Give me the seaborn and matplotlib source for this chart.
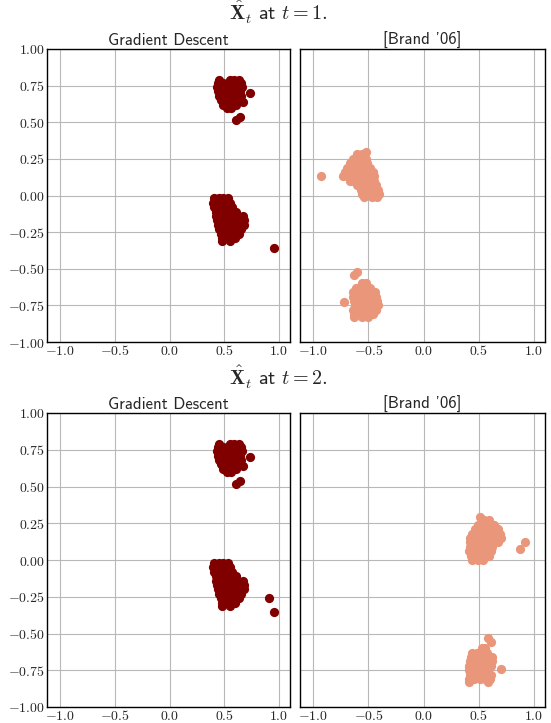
import numpy as np
import pandas as pd
import matplotlib.pyplot as plt
from matplotlib.ticker import FixedLocator, FuncFormatter
import seaborn as sns

# ---- data ---------------------------------------------------------------
# Gradient Descent, t = 1 (upper cluster + lower cluster)
gd_x_t1 = [0.45, 0.55, 0.59, 0.63,
           0.44, 0.49, 0.53, 0.57, 0.61, 0.65,
           0.43, 0.47, 0.51, 0.55, 0.59, 0.63, 0.66,
           0.44, 0.48, 0.52, 0.56, 0.60, 0.64,
           0.45, 0.49, 0.53, 0.57, 0.61, 0.65,
           0.47, 0.51, 0.55, 0.59, 0.63,
           0.49, 0.53, 0.57, 0.61,
           0.52, 0.56,
           0.73, 0.61, 0.64, 0.67,
           0.41, 0.45, 0.49, 0.53,
           0.40, 0.44, 0.48, 0.52, 0.55,
           0.41, 0.45, 0.49, 0.53, 0.57,
           0.42, 0.46, 0.50, 0.54, 0.58, 0.61,
           0.42, 0.46, 0.50, 0.54, 0.58, 0.62, 0.67,
           0.43, 0.47, 0.51, 0.55, 0.59, 0.63, 0.68,
           0.44, 0.48, 0.52, 0.56, 0.60, 0.64, 0.68,
           0.45, 0.49, 0.53, 0.57, 0.61, 0.65,
           0.47, 0.51, 0.55, 0.59, 0.63,
           0.48, 0.52, 0.56, 0.60,
           0.48, 0.55,
           0.95]
gd_y_t1 = [0.79, 0.79, 0.79, 0.79,
           0.77, 0.77, 0.77, 0.77, 0.77, 0.77,
           0.74, 0.74, 0.74, 0.74, 0.74, 0.74, 0.74,
           0.71, 0.71, 0.71, 0.71, 0.71, 0.71,
           0.68, 0.68, 0.68, 0.68, 0.68, 0.68,
           0.65, 0.65, 0.65, 0.65, 0.65,
           0.62, 0.62, 0.62, 0.62,
           0.60, 0.60,
           0.70, 0.515, 0.535, 0.64,
           -0.02, -0.02, -0.02, -0.02,
           -0.05, -0.05, -0.05, -0.05, -0.05,
           -0.08, -0.08, -0.08, -0.08, -0.08,
           -0.11, -0.11, -0.11, -0.11, -0.11, -0.11,
           -0.14, -0.14, -0.14, -0.14, -0.14, -0.14, -0.14,
           -0.17, -0.17, -0.17, -0.17, -0.17, -0.17, -0.17,
           -0.20, -0.20, -0.20, -0.20, -0.20, -0.20, -0.20,
           -0.23, -0.23, -0.23, -0.23, -0.23, -0.23,
           -0.26, -0.26, -0.26, -0.26, -0.26,
           -0.29, -0.29, -0.29, -0.29,
           -0.31, -0.31,
           -0.355]
# Gradient Descent, t = 2: same cloud plus one extra outlier
gd_x_t2 = gd_x_t1 + [0.91]
gd_y_t2 = gd_y_t1 + [-0.26]

# [Brand '06], t = 1
br_x_t1 = [-0.60, -0.56, -0.525,
           -0.64, -0.60, -0.56, -0.52,
           -0.67, -0.63, -0.59, -0.55, -0.51,
           -0.69, -0.65, -0.61, -0.57, -0.53, -0.49,
           -0.71, -0.67, -0.63, -0.59, -0.55, -0.51, -0.46,
           -0.73, -0.69, -0.65, -0.61, -0.57, -0.53, -0.48, -0.45,
           -0.67, -0.63, -0.59, -0.55, -0.51, -0.45,
           -0.60, -0.56, -0.52, -0.48, -0.43,
           -0.57, -0.53, -0.49, -0.45, -0.41,
           -0.56, -0.52, -0.48, -0.44, -0.40,
           -0.54, -0.47, -0.42,
           -0.93,
           -0.635, -0.60,
           -0.56, -0.52,
           -0.61, -0.57, -0.53, -0.49,
           -0.64, -0.60, -0.56, -0.52, -0.48, -0.44,
           -0.64, -0.60, -0.56, -0.51, -0.47, -0.43,
           -0.63, -0.59, -0.55, -0.50, -0.46, -0.42,
           -0.62, -0.58, -0.54, -0.49, -0.45, -0.41,
           -0.64, -0.60, -0.55, -0.51, -0.47, -0.43,
           -0.63, -0.59, -0.54, -0.50, -0.46,
           -0.63, -0.56, -0.50,
           -0.72]
br_y_t1 = [0.28, 0.28, 0.30,
           0.25, 0.25, 0.25, 0.25,
           0.22, 0.22, 0.22, 0.22, 0.22,
           0.19, 0.19, 0.19, 0.19, 0.19, 0.19,
           0.16, 0.16, 0.16, 0.16, 0.16, 0.16, 0.16,
           0.13, 0.13, 0.13, 0.13, 0.13, 0.13, 0.13, 0.13,
           0.10, 0.10, 0.10, 0.10, 0.10, 0.10,
           0.07, 0.07, 0.07, 0.07, 0.07,
           0.04, 0.04, 0.04, 0.04, 0.04,
           0.01, 0.01, 0.01, 0.01, 0.01,
           -0.01, -0.01, -0.01,
           0.13,
           -0.545, -0.52,
           -0.60, -0.60,
           -0.63, -0.63, -0.63, -0.63,
           -0.66, -0.66, -0.66, -0.66, -0.66, -0.66,
           -0.69, -0.69, -0.69, -0.69, -0.69, -0.69,
           -0.72, -0.72, -0.72, -0.72, -0.72, -0.72,
           -0.75, -0.75, -0.75, -0.75, -0.75, -0.75,
           -0.78, -0.78, -0.78, -0.78, -0.78, -0.78,
           -0.81, -0.81, -0.81, -0.81, -0.81,
           -0.83, -0.83, -0.83,
           -0.73]

# [Brand '06], t = 2
br_x_t2 = [0.51,
           0.55, 0.59,
           0.49, 0.53, 0.57, 0.61, 0.64,
           0.47, 0.51, 0.55, 0.59, 0.63, 0.67,
           0.44, 0.48, 0.52, 0.56, 0.60, 0.64, 0.69,
           0.42, 0.46, 0.50, 0.54, 0.58, 0.62, 0.66, 0.70,
           0.42, 0.46, 0.50, 0.54, 0.58, 0.62, 0.67,
           0.42, 0.46, 0.50, 0.54, 0.58, 0.62,
           0.41, 0.45, 0.49, 0.53, 0.57, 0.61,
           0.43, 0.47, 0.51, 0.55, 0.59,
           0.44, 0.49, 0.54,
           0.92, 0.87,
           0.58, 0.615,
           0.53, 0.56,
           0.44, 0.48, 0.53, 0.57,
           0.43, 0.47, 0.51, 0.55, 0.59, 0.62,
           0.42, 0.46, 0.50, 0.54, 0.58, 0.62,
           0.41, 0.45, 0.49, 0.53, 0.57, 0.61,
           0.41, 0.45, 0.49, 0.53, 0.57,
           0.42, 0.46, 0.50, 0.54, 0.58, 0.61,
           0.41, 0.46, 0.51, 0.56, 0.60,
           0.41, 0.58,
           0.70]
br_y_t2 = [0.29,
           0.27, 0.27,
           0.24, 0.24, 0.24, 0.24, 0.24,
           0.21, 0.21, 0.21, 0.21, 0.21, 0.21,
           0.18, 0.18, 0.18, 0.18, 0.18, 0.18, 0.18,
           0.15, 0.15, 0.15, 0.15, 0.15, 0.15, 0.15, 0.15,
           0.12, 0.12, 0.12, 0.12, 0.12, 0.12, 0.12,
           0.09, 0.09, 0.09, 0.09, 0.09, 0.09,
           0.06, 0.06, 0.06, 0.06, 0.06, 0.06,
           0.03, 0.03, 0.03, 0.03, 0.03,
           0.00, 0.00, 0.00,
           0.125, 0.075,
           -0.53, -0.56,
           -0.60, -0.60,
           -0.63, -0.63, -0.63, -0.63,
           -0.66, -0.66, -0.66, -0.66, -0.66, -0.66,
           -0.69, -0.69, -0.69, -0.69, -0.69, -0.69,
           -0.72, -0.72, -0.72, -0.72, -0.72, -0.72,
           -0.75, -0.75, -0.75, -0.75, -0.75,
           -0.78, -0.78, -0.78, -0.78, -0.78, -0.78,
           -0.81, -0.81, -0.81, -0.81, -0.81,
           -0.83, -0.83,
           -0.74]

method_names = ["Gradient Descent", "[Brand '06]"]
time_steps = [1, 2]
x_ticks = [-1.0, -0.5, 0.0, 0.5, 1.0]
y_ticks = [-1.0, -0.75, -0.5, -0.25, 0.0, 0.25, 0.5, 0.75, 1.0]

gd_color = "#800000"
br_color = "#e9967a"

# ---- style ---------------------------------------------------------------
sns.set_style("white")
plt.rcParams["mathtext.fontset"] = "cm"
plt.rcParams["font.family"] = ["cmss10", "DejaVu Sans"]
plt.rcParams["axes.unicode_minus"] = False

fig = plt.figure(figsize=(5.51, 7.23), dpi=100)
W, H = 551.0, 723.0

def px_axes(l, t, r, b):
    return fig.add_axes([l / W, 1 - b / H, (r - l) / W, (b - t) / H])

panels = [
    (px_axes(47, 49, 290, 342), gd_x_t1, gd_y_t1, gd_color, 0, True),
    (px_axes(300, 49, 545, 342), br_x_t1, br_y_t1, br_color, 1, False),
    (px_axes(47, 413, 290, 707), gd_x_t2, gd_y_t2, gd_color, 0, True),
    (px_axes(300, 413, 545, 707), br_x_t2, br_y_t2, br_color, 1, False),
]

for ax, xs, ys, col, m, show_y in panels:
    df = pd.DataFrame({"x": xs, "y": ys})
    sns.scatterplot(data=df, x="x", y="y", color=col, s=44, linewidth=0, ax=ax, zorder=3)
    ax.set_xlim(-1.12, 1.1)
    ax.set_ylim(-1.0, 1.0)
    ax.xaxis.set_major_locator(FixedLocator(x_ticks))
    ax.yaxis.set_major_locator(FixedLocator(y_ticks))
    ax.xaxis.set_major_formatter(FuncFormatter(lambda v, p: "$%.1f$" % v))
    if show_y:
        ax.yaxis.set_major_formatter(FuncFormatter(lambda v, p: "$%.2f$" % v))
    else:
        ax.set_yticklabels([])
    ax.grid(True, color="#b8b8b8", linewidth=0.8)
    ax.set_axisbelow(True)
    ax.set_xlabel("")
    ax.set_ylabel("")
    ax.tick_params(axis="both", direction="out", length=0, pad=1.5,
                   labelsize=10, left=True, bottom=True, color="black")
    for sp in ax.spines.values():
        sp.set_color("black")
        sp.set_linewidth(1.0)
    ax.set_title(method_names[m], fontsize=12, pad=3)

for t, ypix in zip(time_steps, [12, 377]):
    fig.text(278 / W, 1 - ypix / H, r"$\hat{\mathbf{X}}_t$ at $t = %d.$" % t,
             ha="center", va="center", fontsize=14.5)

fig.savefig("out.png", dpi=100)
